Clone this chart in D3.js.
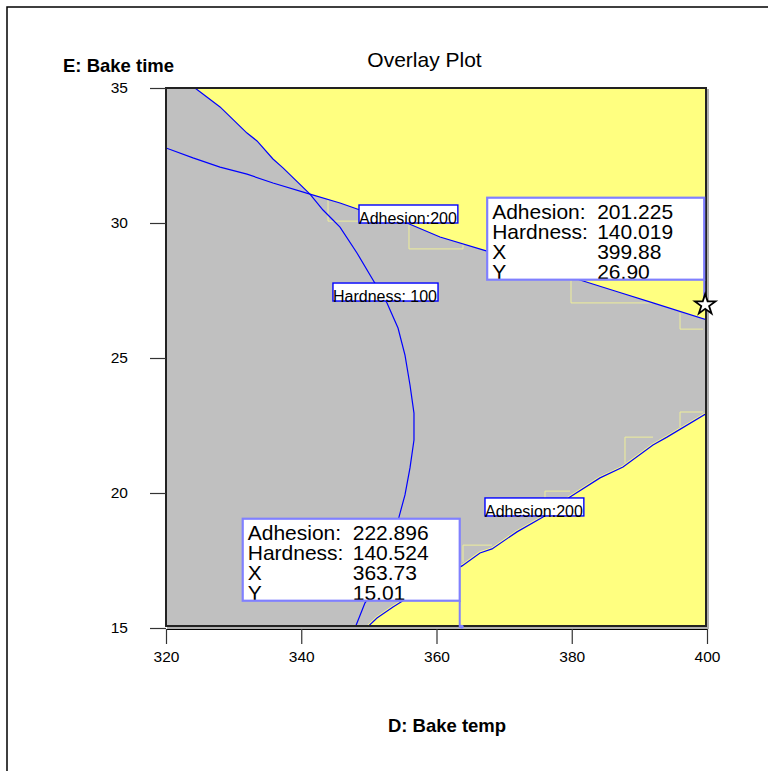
<!DOCTYPE html>
<html>
<head>
<meta charset="utf-8">
<script src="https://cdn.jsdelivr.net/npm/d3@7"></script>
<style>
  body { margin: 0; background: #fff; }
  text { font-family: Arial, "Liberation Sans", sans-serif; fill: #000; }
</style>
</head>
<body>
<svg id="chart" width="768" height="771"></svg>
<script>
// Factor ranges and ticks
const bakeTempDomain = [320, 400];
const bakeTimeDomain = [15, 35];
const xTicks = [320, 340, 360, 380, 400];
const yTicks = [15, 20, 25, 30, 35];

// Hardness = 100 contour (D: Bake temp, E: Bake time)
const hardnessX = [324.29, 327.99, 331.98, 333.46, 335.82, 337.30, 341.29, 343.22, 344.69, 345.73,
                   348.24, 350.61, 352.68, 354.31, 355.34, 356.08, 356.67, 356.67, 356.08, 355.34,
                   354.45, 353.42, 352.38, 350.90, 349.43, 347.95];
const hardnessY = [35.00, 34.30, 33.33, 33.04, 32.37, 32.04, 31.07, 30.48, 30.11, 29.85,
                   28.89, 27.89, 27.04, 26.11, 25.11, 24.00, 22.96, 21.96, 20.93, 19.93,
                   19.11, 18.07, 17.07, 16.41, 15.93, 15.00];

// Adhesion = 200 contour, upper branch
const adhesionUpX = [320.00, 323.99, 327.99, 331.98, 335.82, 341.29, 345.73, 348.69, 355.64, 360.52,
                     367.47, 374.57, 381.22, 386.40, 392.01, 400.00];
const adhesionUpY = [32.78, 32.41, 32.07, 31.81, 31.48, 31.07, 30.74, 30.48, 30.00, 29.48,
                     28.96, 28.44, 27.89, 27.48, 27.04, 26.41];

// Adhesion = 200 contour, lower branch
const adhesionLowX = [349.65, 351.20, 353.57, 357.56, 360.52, 363.77, 366.43, 368.21, 371.90, 375.75,
                      379.74, 384.18, 387.58, 392.01, 394.08, 400.00];
const adhesionLowY = [15.00, 15.37, 15.78, 16.41, 16.85, 17.30, 17.78, 17.93, 18.56, 19.11,
                      19.85, 20.56, 20.96, 21.78, 22.07, 22.96];

// Edges of the coarse fill cells along the region boundaries
const fillSeams = [
  [[343.96, 30.85], [343.96, 30.07], [348.39, 30.07]],
  [[355.93, 30.00], [355.93, 29.04], [363.92, 29.04], [363.92, 29.26]],
  [[379.89, 27.89], [379.89, 27.04], [392.01, 27.04]],
  [[396.01, 26.67], [396.01, 26.07], [399.41, 26.07]],
  [[363.92, 17.44], [363.92, 18.07], [368.21, 18.07]],
  [[376.04, 19.78], [376.04, 20.07], [379.74, 20.07]],
  [[387.87, 21.11], [387.87, 22.07], [392.01, 22.07]],
  [[396.01, 22.44], [396.01, 23.00], [399.41, 23.00]]
];

// Contour labels (anchored at the lower-left of the label)
const contourLabels = ["Adhesion:200", "Hardness: 100", "Adhesion:200"];
const contourLabelX = [348.54, 344.69, 367.17];
const contourLabelY = [30.00, 27.11, 19.15];

// Flagged points
const flagFields = ["Adhesion:", "Hardness:", "X", "Y"];
const flag1Values = ["201.225", "140.019", "399.88", "26.90"];
const flag1Point = [399.88, 26.90];
const flag2Values = ["222.896", "140.524", "363.73", "15.01"];
const flag2Point = [363.73, 15.01];

const svg = d3.select("#chart");

// page frame
svg.append("rect").attr("x", 7).attr("y", 7).attr("width", 900).attr("height", 900)
  .attr("fill", "none").attr("stroke", "#000").attr("stroke-width", 1.5);

const x = d3.scaleLinear().domain(bakeTempDomain).range([166, 707]);
const y = d3.scaleLinear().domain(bakeTimeDomain).range([628, 88]);

const plotL = 166, plotT = 88, plotR = 706, plotB = 626;

svg.append("defs").append("clipPath").attr("id", "plotClip")
  .append("rect").attr("x", plotL).attr("y", plotT)
  .attr("width", plotR - plotL).attr("height", plotB - plotT);

const zip = (xs, ys) => xs.map((v, i) => [v, ys[i]]);
const hardness = zip(hardnessX, hardnessY);
const adhesionUp = zip(adhesionUpX, adhesionUpY);
const adhesionLow = zip(adhesionLowX, adhesionLowY);

// first crossing of two polylines
function crossing(a, b) {
  for (let i = 0; i < a.length - 1; i++) {
    for (let j = 0; j < b.length - 1; j++) {
      const [p1, p2] = [a[i], a[i + 1]], [q1, q2] = [b[j], b[j + 1]];
      const d = (p2[0] - p1[0]) * (q2[1] - q1[1]) - (p2[1] - p1[1]) * (q2[0] - q1[0]);
      if (Math.abs(d) < 1e-12) continue;
      const t = ((q1[0] - p1[0]) * (q2[1] - q1[1]) - (q1[1] - p1[1]) * (q2[0] - q1[0])) / d;
      const u = ((q1[0] - p1[0]) * (p2[1] - p1[1]) - (q1[1] - p1[1]) * (p2[0] - p1[0])) / d;
      if (t >= 0 && t <= 1 && u >= 0 && u <= 1) {
        return { i, j, pt: [p1[0] + t * (p2[0] - p1[0]), p1[1] + t * (p2[1] - p1[1])] };
      }
    }
  }
  return null;
}

// shadow of the plot frame
svg.append("rect").attr("x", plotL + 2).attr("y", plotT + 2)
  .attr("width", plotR - plotL).attr("height", plotB - plotT)
  .attr("fill", "none").attr("stroke", "#b0b0b0").attr("stroke-width", 2);

const plot = svg.append("g").attr("clip-path", "url(#plotClip)");

plot.append("rect").attr("x", plotL).attr("y", plotT)
  .attr("width", plotR - plotL).attr("height", plotB - plotT).attr("fill", "#c0c0c0");

const area = d3.line().x(d => x(d[0])).y(d => y(d[1]));

// upper feasible region: beyond the hardness contour and above the adhesion contour
const cx = crossing(hardness, adhesionUp);
const upperPoly = hardness.slice(0, cx.i + 1)
  .concat([cx.pt])
  .concat(adhesionUp.slice(cx.j + 1))
  .concat([[bakeTempDomain[1], bakeTimeDomain[1]]]);
plot.append("path").attr("d", area(upperPoly) + "Z").attr("fill", "#ffff80");

// lower feasible region: below the lower adhesion contour
const lowerPoly = adhesionLow.concat([[bakeTempDomain[1], bakeTimeDomain[0]]]);
plot.append("path").attr("d", area(lowerPoly) + "Z").attr("fill", "#ffff80");

// cell seams
plot.selectAll("path.seam").data(fillSeams).join("path").attr("class", "seam")
  .attr("d", d => area(d)).attr("fill", "none")
  .attr("stroke", "#eeee9a").attr("stroke-width", 1);

// contour lines
plot.append("path").attr("d", area(adhesionLow)).attr("fill", "none")
  .attr("stroke", "#ffff80").attr("stroke-width", 3);
[hardness, adhesionUp, adhesionLow].forEach(c => {
  plot.append("path").attr("d", area(c)).attr("fill", "none")
    .attr("stroke", "#0000ff").attr("stroke-width", 1.2);
});

// plot frame
svg.append("rect").attr("x", plotL).attr("y", plotT)
  .attr("width", plotR - plotL).attr("height", plotB - plotT)
  .attr("fill", "none").attr("stroke", "#222").attr("stroke-width", 2);

// axes
const xAxis = svg.append("g").attr("transform", "translate(0,629)")
  .call(d3.axisBottom(x).tickValues(xTicks).tickSize(15).tickSizeOuter(0).tickPadding(7));
xAxis.select(".domain").attr("stroke", "#000").attr("stroke-width", 1.2);
xAxis.selectAll(".tick line").attr("stroke", "#333").attr("stroke-width", 1.2);
xAxis.selectAll(".tick text").attr("font-size", "15.5px").attr("fill", "#000");

const yAxis = svg.append("g").attr("transform", "translate(166,0)")
  .call(d3.axisLeft(y).tickValues(yTicks).tickSize(16).tickSizeOuter(0).tickPadding(22));
yAxis.select(".domain").remove();
yAxis.selectAll(".tick line").attr("stroke", "#333").attr("stroke-width", 1.2);
yAxis.selectAll(".tick text").attr("font-size", "15.5px").attr("fill", "#000");

// titles
svg.append("text").attr("x", 424.5).attr("y", 67).attr("text-anchor", "middle")
  .attr("font-size", "21px").text("Overlay Plot");
svg.append("text").attr("x", 63).attr("y", 72).attr("font-weight", "bold")
  .attr("font-size", "18.5px").text("E: Bake time");
svg.append("text").attr("x", 447).attr("y", 732).attr("text-anchor", "middle")
  .attr("font-weight", "bold").attr("font-size", "18.5px").text("D: Bake temp");

// contour labels
contourLabels.forEach((lab, i) => {
  const g = svg.append("g");
  const lx = x(contourLabelX[i]), ly = y(contourLabelY[i]);
  const box = g.append("rect");
  const t = g.append("text").attr("x", lx).attr("y", ly + 1)
    .attr("font-size", "16px").text(lab);
  const w = t.node().getComputedTextLength();
  box.attr("x", lx).attr("y", ly - 18).attr("width", w + 1).attr("height", 18)
    .attr("fill", "#fff").attr("stroke", "#0000ff").attr("stroke-width", 1.4);
});

// flag boxes
function flag(values, point, id) {
  const px = x(point[0]), py = y(point[1]);
  const bw = 217, bh = 82;
  const bx = px - 2 - bw, by = py - 27 - bh;
  const g = svg.append("g");
  g.append("line").attr("x1", bx + bw).attr("y1", by + bh).attr("x2", bx + bw).attr("y2", py)
    .attr("stroke", "#8080ff").attr("stroke-width", 2);
  g.append("rect").attr("x", bx).attr("y", by).attr("width", bw).attr("height", bh).attr("fill", "#fff");
  g.append("clipPath").attr("id", id).append("rect")
    .attr("x", bx).attr("y", by).attr("width", bw).attr("height", bh);
  const tg = g.append("g").attr("clip-path", `url(#${id})`);
  flagFields.forEach((f, i) => {
    const base = by + 21 + i * 20.2;
    tg.append("text").attr("x", bx + 5).attr("y", base).attr("font-size", "21px").text(f);
    tg.append("text").attr("x", bx + 110).attr("y", base).attr("font-size", "21px").text(values[i]);
  });
  g.append("rect").attr("x", bx).attr("y", by).attr("width", bw).attr("height", bh)
    .attr("fill", "none").attr("stroke", "#8080ff").attr("stroke-width", 2.2);
  return { px, py };
}

const f1 = flag(flag1Values, flag1Point, "flag1");
const f2 = flag(flag2Values, flag2Point, "flag2");

svg.append("circle").attr("cx", f2.px).attr("cy", f2.py - 1).attr("r", 2).attr("fill", "#8080ff");

svg.append("path").attr("transform", `translate(${f1.px - 1},${f1.py - 2})`)
  .attr("d", d3.symbol(d3.symbolStar, 130)())
  .attr("fill", "#fff").attr("stroke", "#000").attr("stroke-width", 1.8);
</script>
</body>
</html>
